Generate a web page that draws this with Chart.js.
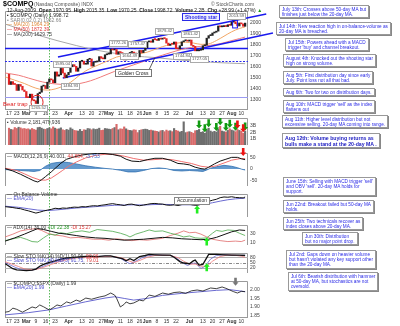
<!DOCTYPE html>
<html>
<head>
<meta charset="utf-8">
<script src="https://cdn.jsdelivr.net/npm/chart.js@4.4.1/dist/chart.umd.min.js"></script>
<style>
  body { margin: 0; width: 400px; height: 326px; position: relative; overflow: hidden; background: #fff; font-family: Arial, "Liberation Sans", sans-serif; }
  canvas { position: absolute; left: 0; }
  .t { position: absolute; white-space: nowrap; font-size: 5px; line-height: 5px; color: #333; z-index: 3; }
  .pl { position: absolute; white-space: nowrap; font-size: 4.2px; line-height: 4.6px; color: #555; background: #fff; border: 0.5px solid #aaa; padding: 0 1px; z-index: 3; }
  .note { position: absolute; white-space: nowrap; font-size: 4.7px; line-height: 5.2px; color: #2a2ae6; background: #fff; border: 1px solid #999; box-shadow: 1px 1px 0 #888; padding: 0.5px 2px; z-index: 3; }
</style>
</head>
<body>
<!-- header -->
<div class="t" style="left:3px;top:0px;font-size:7px;line-height:7px;font-weight:bold;color:#000">$COMPQ</div>
<div class="t" style="left:34px;top:1.5px;color:#555">(Nasdaq Composite) INDX</div>
<div class="t" style="left:211px;top:1.5px;color:#555">© StockCharts.com</div>
<div class="t" style="left:7px;top:7.5px;color:#222">12-Aug-2009 &nbsp;<b>Open</b> 1970.95 &nbsp;<b>High</b> 2015.35 &nbsp;<b>Low</b> 1970.25 &nbsp;<b>Close</b> 1998.72 &nbsp;<b>Volume</b> 2.2B &nbsp;<b>Chg</b> +28.99 (+1.47%) <span style="color:#1a9a1a">▲</span></div>

<!-- price legend -->
<div class="t" style="left:7px;top:13px;color:#222"><b>▪</b> $COMPQ (Daily) 1,998.72</div>
<div class="t" style="left:7px;top:17.5px;color:#888">• SAR(0.02,0.2) 1962.66</div>
<div class="t" style="left:7px;top:22px;color:#e08a3c">— MA(20) 1964.29</div>
<div class="t" style="left:7px;top:27px;color:#e03a3a">— MA(50) 1872.39</div>
<div class="t" style="left:7px;top:32px;color:#444">— MA(200) 1629.75</div>

<!-- price labels -->
<div class="pl" style="left:29px;top:105px">1265.52</div>
<div class="pl" style="left:61px;top:83px">1484.93</div>
<div class="pl" style="left:53px;top:61px">1595.04</div>
<div class="pl" style="left:109px;top:40px">1772.26</div>
<div class="pl" style="left:128px;top:41px">1757.47</div>
<div class="pl" style="left:120px;top:53px">1664.49</div>
<div class="pl" style="left:155px;top:28px">1879.42</div>
<div class="pl" style="left:181px;top:31px">1861.42</div>
<div class="pl" style="left:173px;top:53px">1744.84</div>
<div class="pl" style="left:190px;top:56px">1727.05</div>
<div class="pl" style="left:227px;top:13px">2013.59</div>
<div class="t" style="left:3px;top:101px;font-size:6px;line-height:6px;color:#e02020">Bear trap</div>
<div class="t" style="left:115px;top:69px;border:1px solid #777;background:#fff;padding:0.5px 2px;color:#222">Golden Cross</div>
<div class="t" style="left:182px;top:13px;border:1px solid #2a2ae6;background:#eef;padding:0.5px 2px;color:#2a2ae6;font-weight:bold">Shooting star</div>

<!-- indicator legends -->
<div class="t" style="left:7px;top:120px"><b>▪</b> Volume 2,181,479,936</div>
<div class="t" style="left:7px;top:154px">— MACD(12,26,9) 40.001, <span style="color:#e04040">44.854,</span> <span style="color:#3366cc">-3.753</span></div>
<div class="t" style="left:7px;top:192px">— On Balance Volume</div>
<div class="t" style="left:7px;top:196px;color:#5555cc">— EMA(20)</div>
<div class="t" style="left:7px;top:225px">— ADX(14) 36.00 <span style="color:#2a9a2a">+DI 22.38</span> <span style="color:#e04040">-DI 15.27</span></div>
<div class="t" style="left:7px;top:253.5px">— Slow STO %K(14) %D(1) 90.06, <span style="color:#e04040">90.06</span></div>
<div class="t" style="left:7px;top:257.5px;color:#4a4acc">— Slow STO %K(14) %D(3) 91.75, <span style="color:#e04040">79.01</span></div>
<div class="t" style="left:7px;top:281px">— $COMPQ:$SPX (Daily) 1.99</div>
<div class="t" style="left:7px;top:285px;color:#4a4acc">— EMA(20) 1.99</div>
<div class="t" style="left:174px;top:196.5px;border:0.5px solid #888;background:#fff;padding:0.5px 2px;color:#333">Accumulation</div>

<!-- notes -->
<div class="note" style="left:279px;top:5px">July 13th: Crosses above 50-day MA but<br>finishes just below the 20-day MA.</div>
<div class="note" style="left:276px;top:22px">Jul 14th: New reaction high in on-balance-volume as<br>20-day MA is breached.</div>
<div class="note" style="left:285px;top:38px">Jul 15th: Powers ahead with a MACD<br>trigger 'buy' and channel breakout.</div>
<div class="note" style="left:283px;top:54px">August 4th: Knocked out the shooting star<br>high on strong volume.</div>
<div class="note" style="left:283px;top:71px">Aug 5th: First distribution day since early<br>July. Point loss not all that bad.</div>
<div class="note" style="left:283px;top:88px">Aug 6th: Two for two on distribution days.</div>
<div class="note" style="left:283px;top:100px">Aug 10th: MACD trigger 'sell' as the index<br>flattens out</div>
<div class="note" style="left:282px;top:115px">Aug 11th: Higher level distribution but not<br>excessive selling. 20-day MA coming into range.</div>
<div class="note" style="left:282px;top:133px;font-weight:bold;font-size:5.2px;line-height:6px;color:#1a1ac0">Aug 12th: Volume buying returns as<br>bulls make a stand at the 20-day MA .</div>
<div class="note" style="left:283px;top:177px">June 15th: Selling with MACD trigger 'sell'<br>and OBV 'sell'. 20-day MA holds for<br>support.</div>
<div class="note" style="left:283px;top:200px">Jun 22nd: Breakout failed but 50-day MA<br>holds.</div>
<div class="note" style="left:283px;top:217px">Jun 25th: Two technicals recover as<br>index closes above 20-day MA.</div>
<div class="note" style="left:302px;top:232px">Jun 30th: Distribution<br>but no major point drop.</div>
<div class="note" style="left:286px;top:250px">Jul 2nd: Gaps down on heavier volume<br>but hasn't violated any key support other<br>than the 20-day MA.</div>
<div class="note" style="left:288px;top:272px">Jul 6th: Bearish distribution with hammer<br>at 50-day MA, but stochastics are not<br>oversold.</div>

<script>
// x values are trading-day numbers: 0 = 17 Feb 2009 ... 123 = 12 Aug 2009
const tickDays = [0, 4, 9, 14, 19, 24, 31, 38, 43, 48, 52, 58, 63, 68, 72, 77, 82, 87, 94, 101, 106, 111, 116, 121];
const tickLabels = ['17', '23', 'Mar', '9', '16', '23', 'Apr', '13', '20', '27', 'May', '11', '18', '26', 'Jun', '8', '15', '22', 'Jul', '13', '20', '27', 'Aug', '10'];

const firstOpen = 1534;
const closes = [
    1441, 1467, 1442, 1441, 1387, 1441, 1425, 1391, 1377,
    1322, 1321, 1353, 1299, 1293, 1268, 1358, 1371, 1426, 1431, 1404, 1462, 1491, 1483, 1457, 1555, 1517, 1529, 1587, 1545, 1502, 1528,
    1551, 1602, 1621, 1606, 1561, 1591, 1652, 1653, 1625, 1626, 1670, 1673, 1608, 1643, 1646, 1652, 1694, 1679, 1674, 1711, 1717,
    1719, 1763, 1755, 1759, 1716, 1739, 1731, 1715, 1664, 1689, 1680, 1732, 1734, 1727, 1695, 1692, 1750, 1731, 1751, 1774,
    1828, 1836, 1825, 1850, 1849, 1842, 1860, 1853, 1862, 1858, 1817, 1796, 1808, 1807, 1827, 1766, 1764, 1793, 1829, 1838, 1844, 1835,
    1845, 1797, 1787, 1747, 1747, 1752, 1756, 1793, 1799, 1862, 1885, 1887, 1909, 1916, 1926, 1973, 1965, 1967, 1975, 1968, 1984, 1979,
    2008, 2011, 1993, 1973, 2000, 1992, 1970, 1999
];
// billions of shares
const volumes = [
    2.65, 2.45, 2.40, 2.75, 2.60, 2.80, 2.70, 2.55, 2.60,
    2.50, 2.55, 2.40, 2.60, 2.45, 2.35, 2.75, 2.80, 2.65, 2.50, 2.45, 2.60, 2.70, 2.55, 2.85, 2.65, 2.50, 2.55, 2.70, 2.40, 2.30, 2.45,
    2.35, 2.70, 2.50, 2.30, 2.25, 2.20, 2.45, 2.15, 2.40, 2.35, 2.60, 2.55, 2.40, 2.55, 2.45, 2.50, 2.65, 2.30, 2.35, 2.60, 2.55,
    2.50, 2.45, 2.60, 2.75, 3.25, 2.40, 2.55, 2.50, 2.85, 2.55, 2.35, 2.30, 2.25, 2.40, 2.35, 1.95, 2.30, 2.40, 2.45, 2.50,
    2.45, 2.30, 2.35, 2.25, 2.20, 2.15, 2.05, 2.25, 2.30, 2.10, 2.35, 2.20, 2.25, 2.10, 2.60, 2.30, 2.20, 2.05, 2.15, 3.65, 1.95, 2.05,
    2.10, 2.00, 1.85, 2.25, 2.30, 2.45, 2.00, 2.10, 1.85, 2.40, 2.65, 2.20, 2.05, 2.15, 2.05, 2.50, 2.95, 2.20, 2.10, 2.05, 2.30, 2.55,
    2.35, 2.25, 2.10, 2.45, 2.30, 2.15, 1.85, 2.18
];

const ma20 = [[-2, 1510], [3, 1480], [8, 1450], [12, 1420], [16, 1398], [20, 1390], [24, 1400], [28, 1425], [32, 1460], [36, 1515], [40, 1565], [44, 1600], [48, 1630], [52, 1660], [56, 1690], [60, 1705], [64, 1715], [68, 1720], [72, 1735], [76, 1760], [80, 1785], [84, 1805], [88, 1818], [92, 1825], [96, 1818], [100, 1806], [104, 1810], [108, 1840], [112, 1880], [116, 1920], [120, 1950], [123, 1964]];
const ma50 = [[-2, 1545], [5, 1525], [10, 1500], [15, 1475], [20, 1455], [25, 1445], [30, 1440], [35, 1445], [40, 1462], [45, 1490], [50, 1525], [55, 1560], [60, 1590], [65, 1620], [70, 1650], [76, 1686], [80, 1708], [85, 1735], [90, 1760], [95, 1778], [100, 1788], [105, 1798], [110, 1812], [115, 1835], [120, 1858], [123, 1872]];
const ma200 = [[-2, 1990], [5, 1950], [10, 1920], [18, 1875], [25, 1840], [35, 1795], [45, 1755], [55, 1725], [65, 1700], [76, 1686], [85, 1670], [95, 1655], [105, 1643], [115, 1635], [123, 1630]];

const upperChannel = [[25.5, 1691], [134, 2082]];
const lowerChannel = [[28, 1500], [137.5, 1909]];
const priceLevels = [1775, 1655, 1325];
const bearTrap = [14.6, 1280];
const starBox = [116.5, 119, 2030, 1955];
const goldenCross = [76, 1686];

const macdLine = [[-2, 2], [2, -8], [6, -22], [10, -38], [13, -50], [15, -55], [17, -45], [19, -32], [22, -12], [24, 3], [27, 25], [30, 42], [34, 52], [38, 60], [42, 64], [46, 67], [50, 66], [54, 62], [58, 55], [61, 42], [64, 34], [68, 32], [72, 40], [76, 46], [80, 46], [84, 38], [88, 24], [91, 22], [94, 18], [97, 8], [100, 2], [102, 0], [104, 8], [107, 22], [110, 34], [113, 42], [116, 50], [119, 50], [121, 44], [123, 40]];
const macdSignal = [[-2, 4], [4, -6], [8, -20], [12, -35], [16, -46], [19, -47], [22, -38], [25, -22], [28, -5], [31, 12], [35, 30], [40, 48], [45, 58], [50, 63], [55, 62], [60, 55], [65, 45], [70, 38], [75, 40], [80, 43], [85, 40], [90, 32], [95, 24], [100, 12], [104, 8], [108, 14], [112, 26], [116, 38], [120, 44], [123, 45]];
const macdHist = [[-2, -2], [2, -4], [6, -6], [10, -8], [13, -10], [16, -6], [19, 12], [22, 24], [25, 28], [28, 30], [31, 28], [35, 22], [40, 14], [45, 8], [50, 3], [54, 0], [58, -5], [62, -12], [66, -12], [70, -6], [74, 2], [78, 5], [82, 2], [86, -6], [90, -8], [94, -6], [98, -8], [101, -10], [103, -4], [105, 4], [108, 10], [112, 16], [116, 12], [119, 6], [121, 0], [123, -4]];

// on balance volume, relative units (no axis labels on the chart)
const obvLine = [[-2, 45], [0, 43], [2, 41], [4, 38], [6, 36], [8, 31], [10, 27], [12, 22], [14, 17], [16, 21], [18, 26], [20, 30], [22, 33], [24, 38], [26, 36], [28, 39], [30, 38], [32, 41], [34, 43], [36, 42], [38, 45], [40, 44], [42, 47], [44, 49], [46, 48], [48, 51], [50, 53], [52, 56], [54, 58], [56, 55], [58, 53], [60, 50], [62, 55], [64, 56], [66, 52], [68, 49], [70, 52], [72, 55], [74, 58], [76, 59], [78, 57], [80, 56], [82, 52], [84, 51], [86, 53], [88, 50], [90, 54], [92, 56], [94, 55], [96, 52], [98, 51], [100, 55], [102, 62], [104, 68], [106, 73], [108, 77], [110, 84], [112, 87], [114, 86], [116, 88], [118, 85], [120, 84], [122, 83], [123, 87]];
const obvEma = [[-2, 47], [5, 42], [10, 36], [15, 30], [20, 28], [25, 31], [30, 35], [35, 39], [40, 42], [45, 45], [50, 48], [55, 51], [60, 52], [65, 53], [70, 52], [75, 54], [80, 55], [85, 54], [90, 53], [95, 53], [98, 53], [102, 56], [106, 62], [110, 69], [114, 75], [118, 79], [123, 82]];

const adxLine = [[-2, 13], [3, 20], [8, 28], [12, 35], [15, 40], [18, 38], [22, 34], [26, 30], [30, 28], [35, 25], [40, 22], [45, 20], [50, 19], [55, 17], [60, 15], [65, 16], [70, 17], [75, 19], [80, 21], [85, 20], [90, 18], [95, 17], [100, 16], [104, 17], [108, 21], [112, 27], [116, 33], [120, 37], [123, 36]];
const plusDI = [[-2, 14], [2, 18], [6, 21], [9, 17], [12, 12], [15, 11], [18, 20], [21, 28], [24, 26], [27, 31], [30, 29], [34, 33], [38, 35], [42, 32], [46, 38], [50, 36], [54, 34], [58, 30], [61, 26], [63, 22], [66, 28], [70, 33], [73, 37], [76, 34], [80, 35], [84, 30], [88, 26], [91, 22], [94, 24], [97, 20], [100, 19], [103, 20], [106, 30], [108, 36], [111, 34], [114, 37], [117, 36], [120, 30], [123, 25]];
const minusDI = [[-2, 22], [2, 28], [6, 35], [10, 38], [14, 40], [17, 36], [20, 30], [24, 26], [28, 24], [32, 20], [36, 21], [40, 19], [44, 17], [48, 17], [52, 15], [56, 18], [60, 16], [64, 14], [68, 16], [72, 15], [76, 17], [80, 19], [84, 25], [88, 30], [91, 35], [94, 31], [97, 32], [100, 28], [103, 22], [106, 17], [110, 14], [114, 12], [118, 13], [121, 12], [123, 15]];

const stoFast = [[-2, 44], [0, 30], [2, 16], [4, 10], [6, 8], [9, 6], [12, 8], [14, 14], [16, 30], [18, 40], [21, 52], [24, 60], [27, 70], [30, 76], [34, 80], [38, 84], [42, 86], [46, 84], [50, 88], [53, 88], [56, 80], [59, 72], [61, 60], [63, 72], [65, 62], [68, 84], [71, 90], [73, 96], [76, 94], [80, 92], [84, 92], [86, 80], [89, 56], [91, 48], [94, 44], [96, 60], [97, 64], [99, 36], [101, 40], [104, 96], [108, 96], [112, 94], [116, 92], [120, 92], [123, 90]];
const stoK = [[-2, 50], [1, 35], [3, 25], [6, 12], [9, 8], [12, 8], [15, 18], [18, 30], [21, 45], [24, 55], [28, 66], [32, 76], [36, 80], [40, 82], [45, 84], [50, 86], [54, 84], [58, 74], [61, 55], [63, 44], [66, 58], [69, 76], [72, 88], [76, 94], [80, 92], [84, 90], [87, 78], [90, 52], [93, 34], [95, 44], [97, 48], [100, 18], [102, 28], [105, 70], [108, 90], [112, 95], [116, 92], [120, 90], [123, 92]];
const stoD = [[-2, 55], [2, 40], [5, 28], [8, 15], [12, 10], [15, 14], [18, 24], [22, 40], [26, 55], [30, 66], [35, 76], [40, 80], [45, 82], [50, 84], [55, 84], [59, 76], [62, 62], [65, 50], [68, 62], [72, 80], [76, 90], [80, 92], [84, 90], [88, 78], [91, 58], [94, 42], [97, 42], [100, 30], [103, 30], [106, 58], [110, 84], [114, 93], [118, 91], [121, 86], [123, 79]];
const stoLevels = [80, 50, 20];

const ratioLine = [[-2, 1.868], [0, 1.872], [2, 1.892], [4, 1.885], [7, 1.868], [9, 1.880], [12, 1.899], [14, 1.893], [16, 1.911], [18, 1.900], [21, 1.881], [23, 1.895], [25, 1.911], [27, 1.905], [30, 1.929], [32, 1.922], [35, 1.940], [37, 1.932], [40, 1.952], [43, 1.945], [47, 1.958], [50, 1.965], [53, 1.982], [55, 1.970], [56, 1.952], [58, 1.899], [60, 1.915], [61, 1.929], [63, 1.918], [65, 1.923], [68, 1.940], [70, 1.935], [73, 1.970], [76, 1.962], [80, 1.982], [83, 1.975], [86, 1.985], [89, 1.988], [92, 1.980], [95, 1.995], [98, 2.000], [101, 1.994], [105, 2.012], [108, 2.008], [111, 2.018], [113, 2.010], [115, 2.000], [117, 1.990], [119, 1.982], [121, 1.992], [123, 1.990]];
const ratioEma = [[-2, 1.852], [10, 1.865], [21, 1.882], [30, 1.905], [40, 1.930], [50, 1.952], [55, 1.960], [60, 1.950], [65, 1.940], [72, 1.950], [80, 1.968], [90, 1.980], [98, 1.988], [108, 1.998], [115, 2.002], [120, 1.995], [123, 1.990]];

// signal arrows: [day, value at the arrow tip]
const volArrowsGreen = [[99, 2.6], [102, 2.0], [104, 2.8], [108, 2.2], [110, 3.1], [113, 2.2], [115, 2.7], [118, 2.25], [123, 2.3]];
const volArrowsRed = [[119, 2.6], [122, 2.0]];
const macdArrow = [122, 56];
const obvArrow = [98, 50];
const adxArrow = [103, 21];
const stoArrow = [103, 46];
const ratioArrow = [118, 2.025];

const markerDay = 21;

Chart.defaults.font.family = 'Arial, "Liberation Sans", sans-serif';
const W = 275;

function pts(list) {
    return list.map(p => ({ x: p[0], y: p[1] }));
}

function line(list, color, width, extra) {
    return Object.assign({
        type: 'line', data: pts(list), borderColor: color, borderWidth: width,
        pointRadius: 0, tension: 0, fill: false, order: 2
    }, extra || {});
}

function smooth(list, color, width) {
    return line(list, color, width, { cubicInterpolationMode: 'monotone' });
}

function xScale(show) {
    const label = v => tickLabels[tickDays.indexOf(v)];
    return {
        type: 'linear', min: -2.1, max: 124.5, offset: false, display: show,
        grid: { display: false, drawTicks: false, offset: false }, border: { display: false },
        afterBuildTicks: s => { s.ticks = tickDays.map(v => ({ value: v })); },
        afterFit: s => { s.height = 8; s.paddingLeft = 0; s.paddingRight = 0; },
        ticks: {
            autoSkip: false, maxRotation: 0, padding: 1, color: '#333',
            callback: label,
            font: ctx => ({ size: 5, weight: ctx.tick && isNaN(label(ctx.tick.value)) ? 'bold' : 'normal' })
        }
    };
}

function yScale(min, max, ticks, fmt) {
    return {
        position: 'right', min, max,
        grid: { display: false, drawTicks: false }, border: { display: false },
        afterBuildTicks: s => { s.ticks = ticks.map(v => ({ value: v })); },
        afterFit: s => { s.width = 27; s.paddingTop = 0; s.paddingBottom = 0; },
        ticks: { display: ticks.length > 0, padding: 2, color: '#444', font: { size: 5 }, callback: fmt || (v => v) }
    };
}

function arrow(ctx, x, tip, dir, color) {
    // dir 1: points down, -1: points up
    ctx.save();
    ctx.fillStyle = color;
    ctx.beginPath();
    ctx.moveTo(x, tip);
    ctx.lineTo(x - 3, tip - dir * 3.5);
    ctx.lineTo(x - 1.3, tip - dir * 3.5);
    ctx.lineTo(x - 1.3, tip - dir * 8);
    ctx.lineTo(x + 1.3, tip - dir * 8);
    ctx.lineTo(x + 1.3, tip - dir * 3.5);
    ctx.lineTo(x + 3, tip - dir * 3.5);
    ctx.closePath();
    ctx.fill();
    ctx.restore();
}

function panel(cfg) {
    const padTop = cfg.padTop || 0;
    const c = document.createElement('canvas');
    c.width = W;
    c.height = padTop + cfg.height + (cfg.showX ? 8 : 0);
    c.style.top = (cfg.top - padTop) + 'px';
    document.body.insertBefore(c, document.body.firstChild);

    return new Chart(c, {
        type: 'bar',
        data: { datasets: cfg.datasets },
        options: {
            responsive: false, animation: false, events: [],
            layout: { padding: { left: 5, right: 0, top: padTop, bottom: 0 } },
            plugins: { legend: { display: false }, tooltip: { enabled: false } },
            scales: { x: xScale(!!cfg.showX), y: cfg.y }
        },
        plugins: [{
            id: 'panelExtras',
            beforeDatasetsDraw(chart) {
                const { ctx, chartArea: a } = chart;
                ctx.save();
                // panel frame
                ctx.strokeStyle = '#9a9a9a';
                ctx.lineWidth = 1;
                ctx.beginPath();
                ctx.moveTo(a.left + 0.5, a.bottom);
                ctx.lineTo(a.left + 0.5, a.top + 0.5);
                ctx.lineTo(a.right - 0.5, a.top + 0.5);
                ctx.lineTo(a.right - 0.5, a.bottom);
                if (cfg.closeFrame) {
                    ctx.moveTo(a.left, a.bottom - 0.5);
                    ctx.lineTo(a.right, a.bottom - 0.5);
                }
                ctx.stroke();
                // green marker day
                const mx = Math.round(chart.scales.x.getPixelForValue(markerDay)) + 0.5;
                ctx.strokeStyle = '#5cb85c';
                ctx.setLineDash([1.5, 1.5]);
                ctx.beginPath();
                ctx.moveTo(mx, a.top);
                ctx.lineTo(mx, chart.height);
                ctx.stroke();
                ctx.restore();
                if (cfg.under) cfg.under(chart);
            },
            afterDatasetsDraw(chart) {
                if (cfg.over) cfg.over(chart);
            }
        }]
    });
}

// price
const prevClose = closes.map((c, i) => i ? closes[i - 1] : firstOpen);
const levelStyles = [
    { color: '#1a1aee', width: 1.5, dash: [] },
    { color: '#2a2aee', width: 1, dash: [2, 1.5] },
    { color: '#9a9af2', width: 1, dash: [] }
];

panel({
    top: 11, height: 99, showX: true, closeFrame: true,
    y: yScale(1209, 2109, [1300, 1400, 1500, 1600, 1700, 1800, 1900, 2000]),
    datasets: [
        {
            type: 'bar', order: 0,
            data: closes.map((c, i) => ({ x: i, y: [prevClose[i], c] })),
            backgroundColor: closes.map((c, i) => c < prevClose[i] ? '#e02424' : '#222'),
            barThickness: 1.6, minBarLength: 1
        },
        smooth(ma20, '#f2a766', 1),
        smooth(ma50, '#f07a7a', 1),
        smooth(ma200, '#a8a8a8', 1),
        line(upperChannel, '#1a1aee', 1.6, { clip: false, order: 0 }),
        line(lowerChannel, '#1a1aee', 1.6, { clip: false, order: 0 })
    ],
    under: chart => {
        const { ctx, chartArea: a, scales: { y } } = chart;
        ctx.save();
        priceLevels.forEach((p, i) => {
            const s = levelStyles[i];
            const py = Math.round(y.getPixelForValue(p)) + 0.5;
            ctx.strokeStyle = s.color;
            ctx.lineWidth = s.width;
            ctx.setLineDash(s.dash);
            ctx.beginPath();
            ctx.moveTo(a.left, py);
            ctx.lineTo(a.right, py);
            ctx.stroke();
        });
        ctx.restore();
    },
    over: chart => {
        const { ctx, scales: { x, y } } = chart;
        ctx.save();
        // bear trap circle
        ctx.strokeStyle = '#e02020';
        ctx.lineWidth = 1;
        ctx.beginPath();
        ctx.ellipse(x.getPixelForValue(bearTrap[0]), y.getPixelForValue(bearTrap[1]), 6, 7, 0, 0, Math.PI * 2);
        ctx.stroke();
        // shooting star box
        const x0 = x.getPixelForValue(starBox[0]), x1 = x.getPixelForValue(starBox[1]);
        const y0 = y.getPixelForValue(starBox[2]), y1 = y.getPixelForValue(starBox[3]);
        ctx.strokeStyle = '#1a1aee';
        ctx.strokeRect(x0, y0, x1 - x0, y1 - y0);
        // golden cross pointer
        ctx.strokeStyle = '#333';
        ctx.lineWidth = 0.8;
        ctx.beginPath();
        ctx.moveTo(148, 61);
        ctx.lineTo(x.getPixelForValue(goldenCross[0]), y.getPixelForValue(goldenCross[1]));
        ctx.stroke();
        ctx.restore();
    }
});

// volume
panel({
    top: 118, height: 35,
    y: yScale(0, 4.25, [1, 2, 3], v => v + 'B'),
    datasets: [{
        type: 'bar',
        data: volumes.map((v, i) => ({ x: i, y: v })),
        backgroundColor: closes.map((c, i) => c < prevClose[i] ? '#d86a6a' : '#6e6e6e'),
        barThickness: 1.5
    }],
    over: chart => {
        const { ctx, scales: { x, y } } = chart;
        volArrowsGreen.forEach(p => arrow(ctx, x.getPixelForValue(p[0]), y.getPixelForValue(p[1]), 1, '#119a11'));
        volArrowsRed.forEach(p => arrow(ctx, x.getPixelForValue(p[0]), y.getPixelForValue(p[1]), 1, '#ee1111'));
    }
});

// MACD
panel({
    top: 153, height: 41, padTop: 6,
    y: yScale(-71.9, 68.5, [-50, -25, 0, 25, 50]),
    datasets: [
        line(macdHist, '#2f6fb0', 0.8, { fill: 'origin', backgroundColor: 'rgba(50,120,190,0.75)', order: 3 }),
        line(macdSignal, '#f07070', 1),
        line(macdLine, '#111', 1, { order: 1 })
    ],
    over: chart => arrow(chart.ctx, chart.scales.x.getPixelForValue(macdArrow[0]), chart.scales.y.getPixelForValue(macdArrow[1]), 1, '#ee1111')
});

// On balance volume
panel({
    top: 194, height: 31,
    y: yScale(0, 100, []),
    datasets: [
        line(obvEma, '#6a6ad0', 1),
        line(obvLine, '#111', 1, { order: 1 })
    ],
    over: chart => arrow(chart.ctx, chart.scales.x.getPixelForValue(obvArrow[0]), chart.scales.y.getPixelForValue(obvArrow[1]), -1, '#22ee22')
});

// ADX
panel({
    top: 225, height: 28, padTop: 6,
    y: yScale(4.6, 47.7, [10, 20, 30, 40]),
    datasets: [
        line(plusDI, '#4aa84a', 0.8),
        line(minusDI, '#e06a6a', 0.8),
        line(adxLine, '#111', 1, { order: 1 })
    ],
    over: chart => arrow(chart.ctx, chart.scales.x.getPixelForValue(adxArrow[0]), chart.scales.y.getPixelForValue(adxArrow[1]), -1, '#22ee22')
});

// slow stochastics
panel({
    top: 253, height: 28, padTop: 6,
    y: yScale(-8, 104, [20, 50, 80]),
    datasets: [
        line(stoD, '#f07a7a', 0.8),
        line(stoK, '#6a6ad0', 0.8),
        line(stoFast, '#111', 1.3, { order: 1 })
    ],
    under: chart => {
        const { ctx, chartArea: a, scales: { y } } = chart;
        ctx.save();
        stoLevels.forEach(v => {
            const py = Math.round(y.getPixelForValue(v)) + 0.5;
            ctx.strokeStyle = v === 50 ? '#888' : '#b0b0b0';
            ctx.setLineDash(v === 50 ? [3, 1.5, 1, 1.5] : []);
            ctx.lineWidth = 1;
            ctx.beginPath();
            ctx.moveTo(a.left, py);
            ctx.lineTo(a.right, py);
            ctx.stroke();
        });
        ctx.restore();
    },
    over: chart => arrow(chart.ctx, chart.scales.x.getPixelForValue(stoArrow[0]), chart.scales.y.getPixelForValue(stoArrow[1]), -1, '#22ee22')
});

// $COMPQ:$SPX ratio
panel({
    top: 281, height: 37, padTop: 6, showX: true, closeFrame: true,
    y: yScale(1.8334, 2.0536, [1.85, 1.90, 1.95, 2.00], v => v.toFixed(2)),
    datasets: [
        line(ratioEma, '#6a6ad0', 1),
        line(ratioLine, '#111', 0.8, { order: 1 })
    ],
    over: chart => arrow(chart.ctx, chart.scales.x.getPixelForValue(ratioArrow[0]), chart.scales.y.getPixelForValue(ratioArrow[1]), 1, '#777')
});
</script>
</body>
</html>
